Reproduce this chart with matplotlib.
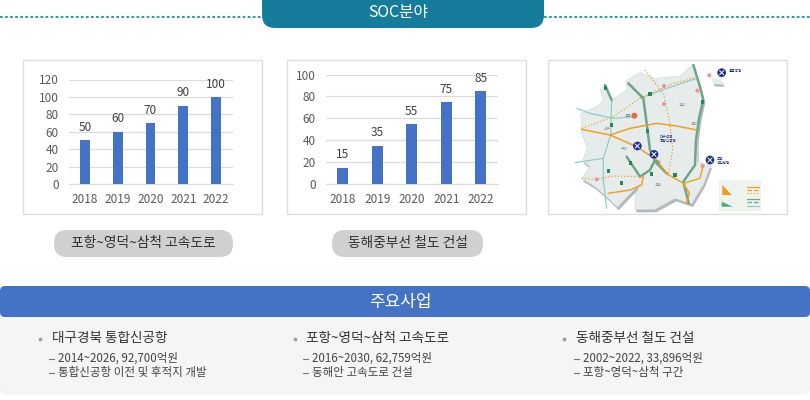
import matplotlib
matplotlib.use("Agg")
import matplotlib.pyplot as plt
from matplotlib.patches import FancyBboxPatch, Rectangle, Polygon, Circle

plt.rcParams['font.family'] = ['Noto Sans CJK KR', 'DejaVu Sans']

years = ['2018', '2019', '2020', '2021', '2022']
highway_values = [50, 60, 70, 90, 100]
railway_values = [15, 35, 55, 75, 85]
highway_ticks = [0, 20, 40, 60, 80, 100, 120]
railway_ticks = [0, 20, 40, 60, 80, 100]
header_title = 'SOC분야'
highway_name = '포항~영덕~삼척 고속도로'
railway_name = '동해중부선 철도 건설'
section_title = '주요사업'
projects = [
    ('대구경북 통합신공항', '2014~2026, 92,700억원', '통합신공항 이전 및 후적지 개발'),
    ('포항~영덕~삼척 고속도로', '2016~2030, 62,759억원', '동해안 고속도로 건설'),
    ('동해중부선 철도 건설', '2002~2022, 33,896억원', '포항~영덕~삼척 구간'),
]
map_labels = [(566, 62, '울릉공항', '#1c2f8c'), (360, 260, '대구경북', '#1c2f8c'), (360, 272, '통합신공항', '#1c2f8c'),
              (530, 326, '포항', '#1c2f8c'), (530, 338, '영일만항', '#1c2f8c'), (255, 197, '경북', '#777777'),
              (190, 237, '상주', '#888888'), (242, 298, '구미', '#888888'), (345, 335, '영천', '#888888'),
              (452, 222, '영덕', '#888888'), (415, 165, '영양', '#888888'), (345, 405, '경산', '#888888')]

W, H = 810, 400
fig = plt.figure(figsize=(W / 100, H / 100), dpi=100, facecolor='white')
bg = fig.add_axes([0, 0, 1, 1])
bg.set_xlim(0, W); bg.set_ylim(H, 0); bg.axis('off')

def rbox(ax, x0, y0, x1, y1, r, **kw):
    ax.add_patch(FancyBboxPatch((x0 + r, y0 + r), x1 - x0 - 2 * r, y1 - y0 - 2 * r,
                                boxstyle=f'round,pad={r},rounding_size={r}', **kw))

# header
for a, b in [(0, 262), (544, 810)]:
    bg.plot([a, b], [17, 17], color='#2b98b4', lw=1.4, ls=(0, (1.4, 1.2)))
rbox(bg, 262, -16, 544, 28, 13, fc='#167c9c', ec='none', zorder=3)
bg.text(398, 12, header_title, color='white', fontsize=11.4, ha='center', va='center', zorder=4)

# panels
for x0, x1 in [(23, 261.5), (287, 525.5), (548, 786.5)]:
    bg.add_patch(Rectangle((x0, 60), x1 - x0, 154, fc='white', ec='#dedede', lw=1))

def bar_chart(x0, x1, ytop, ymax, values, ticks, width):
    ax = fig.add_axes([x0 / W, 1 - 184 / H, (x1 - x0) / W, (184 - ytop) / H])
    ax.patch.set_alpha(0)
    ax.bar(range(5), values, width=width, color='#4472c4', zorder=3)
    ax.set_xlim(-0.5, 4.5); ax.set_ylim(0, ymax)
    ax.set_yticks(ticks); ax.set_xticks(range(5)); ax.set_xticklabels(years)
    ax.grid(axis='y', color='#dcdcdc', lw=0.9, zorder=0)
    for s in ['top', 'left', 'right']:
        ax.spines[s].set_visible(False)
    ax.spines['bottom'].set_color('#dcdcdc')
    ax.tick_params(length=0, labelsize=8.5, labelcolor='#595959')
    ax.tick_params(axis='x', pad=6.5)
    ax.tick_params(axis='y', pad=7)
    for i, v in enumerate(values):
        ax.annotate(str(v), (i, v), xytext=(0, 4.5), textcoords='offset points',
                    ha='center', va='bottom', fontsize=8.5, color='#404040', zorder=4)

bar_chart(68.5, 232.5, 79.5, 120, highway_values, highway_ticks, 0.30)
bar_chart(325.5, 498, 74.5, 100, railway_values, railway_ticks, 0.32)

# name pills
rbox(bg, 54, 230, 233, 257, 13, fc='#d0d0ce', ec='none')
bg.text(143, 243, highway_name, fontsize=9.9, weight='medium', color='#303030', ha='center', va='center')
rbox(bg, 332, 230, 483, 257, 13, fc='#d0d0ce', ec='none')
bg.text(407.5, 243, railway_name, fontsize=9.9, weight='medium', color='#303030', ha='center', va='center')

# schematic map, coordinates in the picture of the panel
m = fig.add_axes([540 / W, 1 - 220 / H, 260 / W, 170 / H])
m.set_xlim(0, 780); m.set_ylim(510, 0); m.axis('off'); m.patch.set_alpha(0)
land = [(195,105),(215,150),(262,118),(258,92),(300,68),(345,85),(420,78),(458,45),(472,80),(492,150),
        (480,205),(472,270),(472,335),(512,345),(492,400),(455,462),(405,445),(345,478),(285,478),(285,440),
        (300,402),(262,440),(232,472),(205,445),(165,410),(125,385),(150,350),(128,332),(142,292),(125,250),
        (122,190),(170,170),(192,150),(180,118)]
m.add_patch(Polygon([(x + 4, y + 9) for x, y in land], fc='#b4b8ba', ec='none', zorder=1))
m.add_patch(Polygon(land, fc='#e6ebec', ec='#d3d9da', lw=0.4, zorder=2))
island = [(512,80),(545,92),(548,104),(520,102)]
m.add_patch(Polygon([(x + 4, y + 7) for x, y in island], fc='#b4b8ba', ec='none', zorder=1))
m.add_patch(Polygon(island, fc='#e6ebec', ec='none', zorder=2))

def route(points, color, lw, ls='-'):
    m.plot(*zip(*points), color=color, lw=lw, ls=ls, zorder=3, solid_capstyle='round')

teal = '#8fcfc8'; green = '#6fa58a'; orange = '#f0a020'
route([(110,175),(150,190),(220,205),(290,200)], teal, 0.9)
route([(300,145),(380,115),(470,85)], teal, 0.9)
route([(105,338),(190,325),(212,255),(215,150)], teal, 0.9)
route([(190,325),(190,390),(200,475)], teal, 0.9)
route([(195,105),(215,150)], green, 1.8)
route([(265,100),(310,145),(320,220),(330,300),(350,340),(382,372)], green, 1.8)
route([(460,45),(480,110),(490,150),(478,200),(468,270),(465,345),(430,395),(446,460)], green, 1.8)
route([(260,320),(300,380),(330,360),(345,330)], green, 1.8)
route([(125,238),(210,255),(290,290),(350,330),(382,372),(430,400),(448,430),(440,460)], orange, 1.1)
route([(210,255),(270,235),(350,220),(410,228),(470,240)], orange, 1.1)
route([(205,430),(270,420),(305,405),(310,380)], orange, 1.1)
route([(430,400),(480,385),(490,345)], orange, 1.0)
route([(125,235),(220,200),(300,145),(400,100),(470,82)], orange, 0.9, ':')
route([(315,60),(370,130),(390,220),(398,300),(385,372)], orange, 0.9, ':')
route([(125,385),(170,388),(220,378),(305,380)], orange, 0.9, ':')
for x, y in [(545,68),(292,288),(342,313),(510,330)]:
    m.add_patch(Circle((x, y), 13, fc='#1c2f8c', ec='none', zorder=5))
    m.plot([x - 6, x + 6], [y - 6, y + 6], color='white', lw=0.7, zorder=6)
    m.plot([x - 6, x + 6], [y + 6, y - 6], color='white', lw=0.7, zorder=6)
m.add_patch(Circle((283, 197), 9, fc='#e0703a', ec='none', zorder=5))
for x, y in [(372,108),(372,162),(472,122),(488,348),(170,388),(508,76)]:
    m.add_patch(Circle((x, y), 6, fc='#ee8f99', ec='none', zorder=5))
for x, y in [(197,113),(330,132),(487,155),(215,226),(322,242),(272,338),(205,363),(244,400),(335,372),(405,374)]:
    m.add_patch(Rectangle((x - 5, y - 6), 10, 12, fc='#1f8a5a', ec='none', zorder=5))
m.add_patch(Rectangle((538, 390), 126, 92, fc='#eef3ee', ec='none', zorder=2))
m.add_patch(Polygon([(547,435),(547,405),(575,435)], fc='#ee9a20', ec='none', zorder=3))
m.add_patch(Polygon([(545,470),(545,455),(578,470)], fc='#3fae7a', ec='none', zorder=3))
for y, c, ls in [(410,orange,'-'),(420,orange,'--'),(430,orange,':'),(447,green,'-'),(457,green,'--'),(467,teal,'-')]:
    m.plot([622, 656], [y, y], color=c, lw=0.9, ls=ls, zorder=3)
for x, y, t, c in map_labels:
    m.text(x, y, t, fontsize=2.6, color=c, ha='left', va='center', zorder=7)

# section
rbox(bg, 0, 305, 810, 395, 7, fc='#f5f5f5', ec='none')
rbox(bg, 0, 286, 810, 317, 5, fc='#4472c4', ec='none')
bg.text(400, 301.5, section_title, color='white', fontsize=12.2, ha='center', va='center')
for (title, l1, l2), xb, xt, xd in zip(projects, (40, 295, 564), (52, 306, 576), (49, 303, 574)):
    bg.plot([xb], [338.5], marker='o', ms=1.8, color='#a0a0a0')
    bg.text(xt, 338, title, fontsize=9.8, weight='medium', color='#333333', va='center')
    for y, line in [(358.5, l1), (372.5, l2)]:
        bg.plot([xd, xd + 5], [y, y], color='#777777', lw=0.8)
        bg.text(xd + 9, y, line, fontsize=8.3, color='#444444', va='center')

fig.savefig('out.png', dpi=100)
